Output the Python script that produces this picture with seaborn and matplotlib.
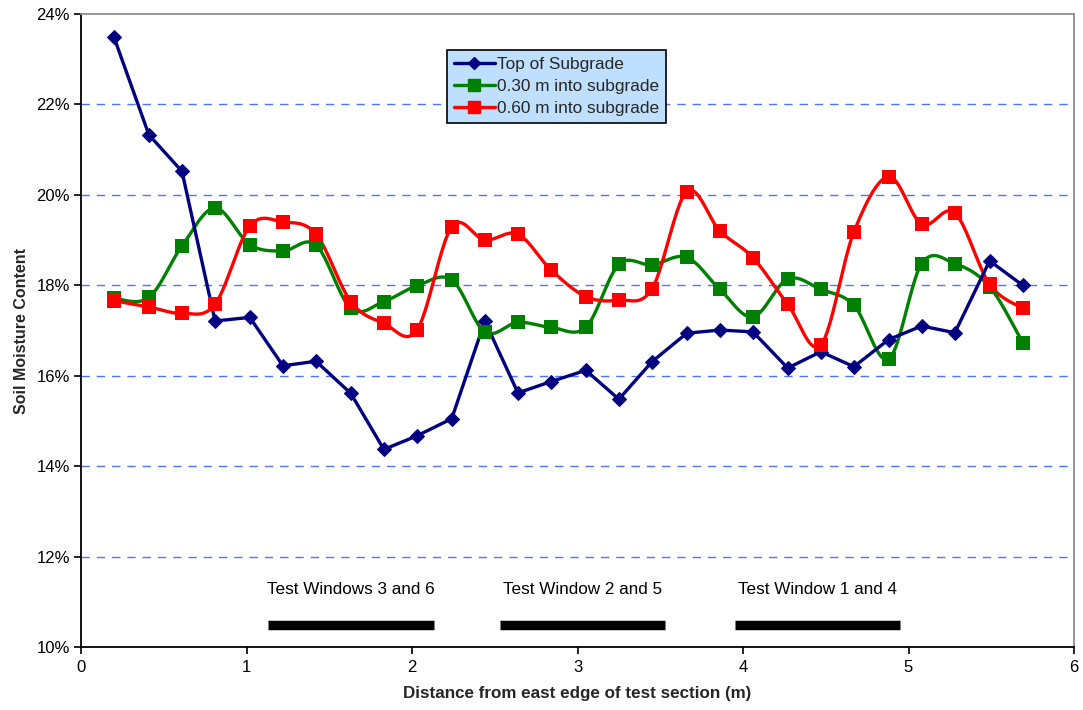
import numpy as np
import pandas as pd
import matplotlib
matplotlib.use("Agg")
import matplotlib.pyplot as plt
from matplotlib.lines import Line2D
from matplotlib.ticker import FuncFormatter, MultipleLocator
import seaborn as sns

# Measurement positions along the test section (m)
distance = [0.20, 0.41, 0.61, 0.81, 1.02, 1.22, 1.42, 1.63, 1.83, 2.03,
            2.24, 2.44, 2.64, 2.84, 3.05, 3.25, 3.45, 3.66, 3.86, 4.06,
            4.27, 4.47, 4.67, 4.88, 5.08, 5.28, 5.49, 5.69]

# Soil moisture content (%) at three depths
top_of_subgrade = [23.48, 21.33, 20.52, 17.21, 17.29, 16.22, 16.32, 15.61, 14.37, 14.67,
                   15.05, 17.21, 15.62, 15.87, 16.12, 15.48, 16.31, 16.94, 17.01, 16.97,
                   16.17, 16.53, 16.20, 16.80, 17.10, 16.95, 18.54, 18.00]
depth_030 = [17.71, 17.73, 18.87, 19.71, 18.90, 18.76, 18.89, 17.49, 17.64, 17.99,
             18.12, 16.97, 17.18, 17.07, 17.07, 18.46, 18.45, 18.62, 17.91, 17.30,
             18.14, 17.91, 17.56, 16.37, 18.48, 18.48, 17.97, 16.73]
depth_060 = [17.66, 17.52, 17.38, 17.58, 19.31, 19.40, 19.13, 17.64, 17.16, 17.01,
             19.29, 19.00, 19.13, 18.34, 17.75, 17.67, 17.92, 20.07, 19.20, 18.61,
             17.58, 16.68, 19.18, 20.40, 19.35, 19.60, 18.02, 17.49]

series_names = ["Top of Subgrade", "0.30 m into subgrade", "0.60 m into subgrade"]

# Test window spans (m) and their labels
window_labels = ["Test Windows 3 and 6", "Test Window 2 and 5", "Test Window 1 and 4"]
window_start = [1.13, 2.53, 3.95]
window_end = [2.13, 3.53, 4.95]
window_bar_level = 10.49
window_text_level = 11.28

y_ticks = [10, 12, 14, 16, 18, 20, 22, 24]


def smooth_curve(xs, ys, steps=24):
    """Bezier smoothing through every point (control points from neighbours)."""
    px = np.asarray(xs, float)
    py = np.asarray(ys, float)
    n = len(px)
    out_x, out_y = [], []
    for i in range(n - 1):
        p0 = np.array([px[max(i - 1, 0)], py[max(i - 1, 0)]])
        p1 = np.array([px[i], py[i]])
        p2 = np.array([px[i + 1], py[i + 1]])
        p3 = np.array([px[min(i + 2, n - 1)], py[min(i + 2, n - 1)]])
        c1 = p1 + (p2 - p0) / 6.0
        c2 = p2 - (p3 - p1) / 6.0
        t = np.linspace(0, 1, steps, endpoint=(i == n - 2))[:, None]
        seg = ((1 - t) ** 3) * p1 + 3 * ((1 - t) ** 2) * t * c1 + 3 * (1 - t) * t ** 2 * c2 + t ** 3 * p2
        out_x.extend(seg[:, 0])
        out_y.extend(seg[:, 1])
    return np.array(out_x), np.array(out_y)


sns.set_theme(style="white")
plt.rcParams["font.family"] = ["Liberation Sans", "DejaVu Sans"]

fig = plt.figure(figsize=(10.83, 7.10), dpi=100)
ax = fig.add_axes([0.0748, 0.0887, 0.9169, 0.8916])

navy = "#000080"
green = "#008000"
red = "#FF0000"

df = pd.DataFrame({"distance": distance, "top": top_of_subgrade,
                   "d030": depth_030, "d060": depth_060})

# Top of subgrade: straight segments with diamond markers
sns.lineplot(data=df, x="distance", y="top", ax=ax, color=navy, linewidth=2.4,
             marker="D", markersize=7.3, markeredgecolor=navy, zorder=4)

# Deeper readings: smoothed lines with square markers
for col, color in [("d030", green), ("d060", red)]:
    sx, sy = smooth_curve(df["distance"], df[col])
    smooth_df = pd.DataFrame({"x": sx, "y": sy})
    sns.lineplot(data=smooth_df, x="x", y="y", ax=ax, color=color,
                 linewidth=2.4, sort=False, estimator=None, zorder=3)
    sns.scatterplot(data=df, x="distance", y=col, ax=ax, color=color,
                    marker="s", s=100, edgecolor=color, linewidth=0, zorder=5)

# Test window bars and labels
for label, x0, x1 in zip(window_labels, window_start, window_end):
    ax.plot([x0, x1], [window_bar_level, window_bar_level], color="black",
            linewidth=6.8, solid_capstyle="butt", zorder=2)
    ax.text((x0 + x1) / 2, window_text_level, label, ha="center", va="center",
            fontsize=12.3, color="black")

ax.set_xlim(0, 6)
ax.set_ylim(10, 24)
ax.xaxis.set_major_locator(MultipleLocator(1))
ax.set_yticks(y_ticks)
ax.yaxis.set_major_formatter(FuncFormatter(lambda v, p: f"{v:.0f}%"))

for v in y_ticks[1:-1]:
    ax.axhline(v, color="#4F74FF", linewidth=1.0, linestyle=(0, (6, 5)), zorder=1)

ax.spines["left"].set_color("black")
ax.spines["bottom"].set_color("black")
ax.spines["top"].set_color("#8C8C8C")
ax.spines["right"].set_color("#8C8C8C")
for s in ax.spines.values():
    s.set_linewidth(1.3)

ax.tick_params(axis="both", which="major", direction="out", length=5, width=1.2,
               color="black", labelsize=12, labelcolor="black", pad=3)
ax.tick_params(axis="x", bottom=True, top=False, pad=4)
ax.tick_params(axis="y", left=True, right=False)

ax.set_xlabel("Distance from east edge of test section (m)", fontsize=12.25,
              fontweight="bold", labelpad=8)
ax.set_ylabel("Soil Moisture Content", fontsize=11.5, fontweight="bold", labelpad=5)

handles = [
    Line2D([], [], color=navy, linewidth=2.4, marker="D", markersize=6.5),
    Line2D([], [], color=green, linewidth=2.4, marker="s", markersize=8),
    Line2D([], [], color=red, linewidth=2.4, marker="s", markersize=8),
]
leg = ax.legend(handles, series_names, loc="upper left",
                bbox_to_anchor=(0.3686, 0.943), fontsize=12.4, frameon=True,
                fancybox=False, edgecolor="black", facecolor="#BFDFFF",
                framealpha=1, handlelength=2.4, handletextpad=0.15,
                labelspacing=0.42, borderpad=0.38, borderaxespad=0)
leg.get_frame().set_linewidth(1.2)

fig.savefig("out.png", dpi=100)
